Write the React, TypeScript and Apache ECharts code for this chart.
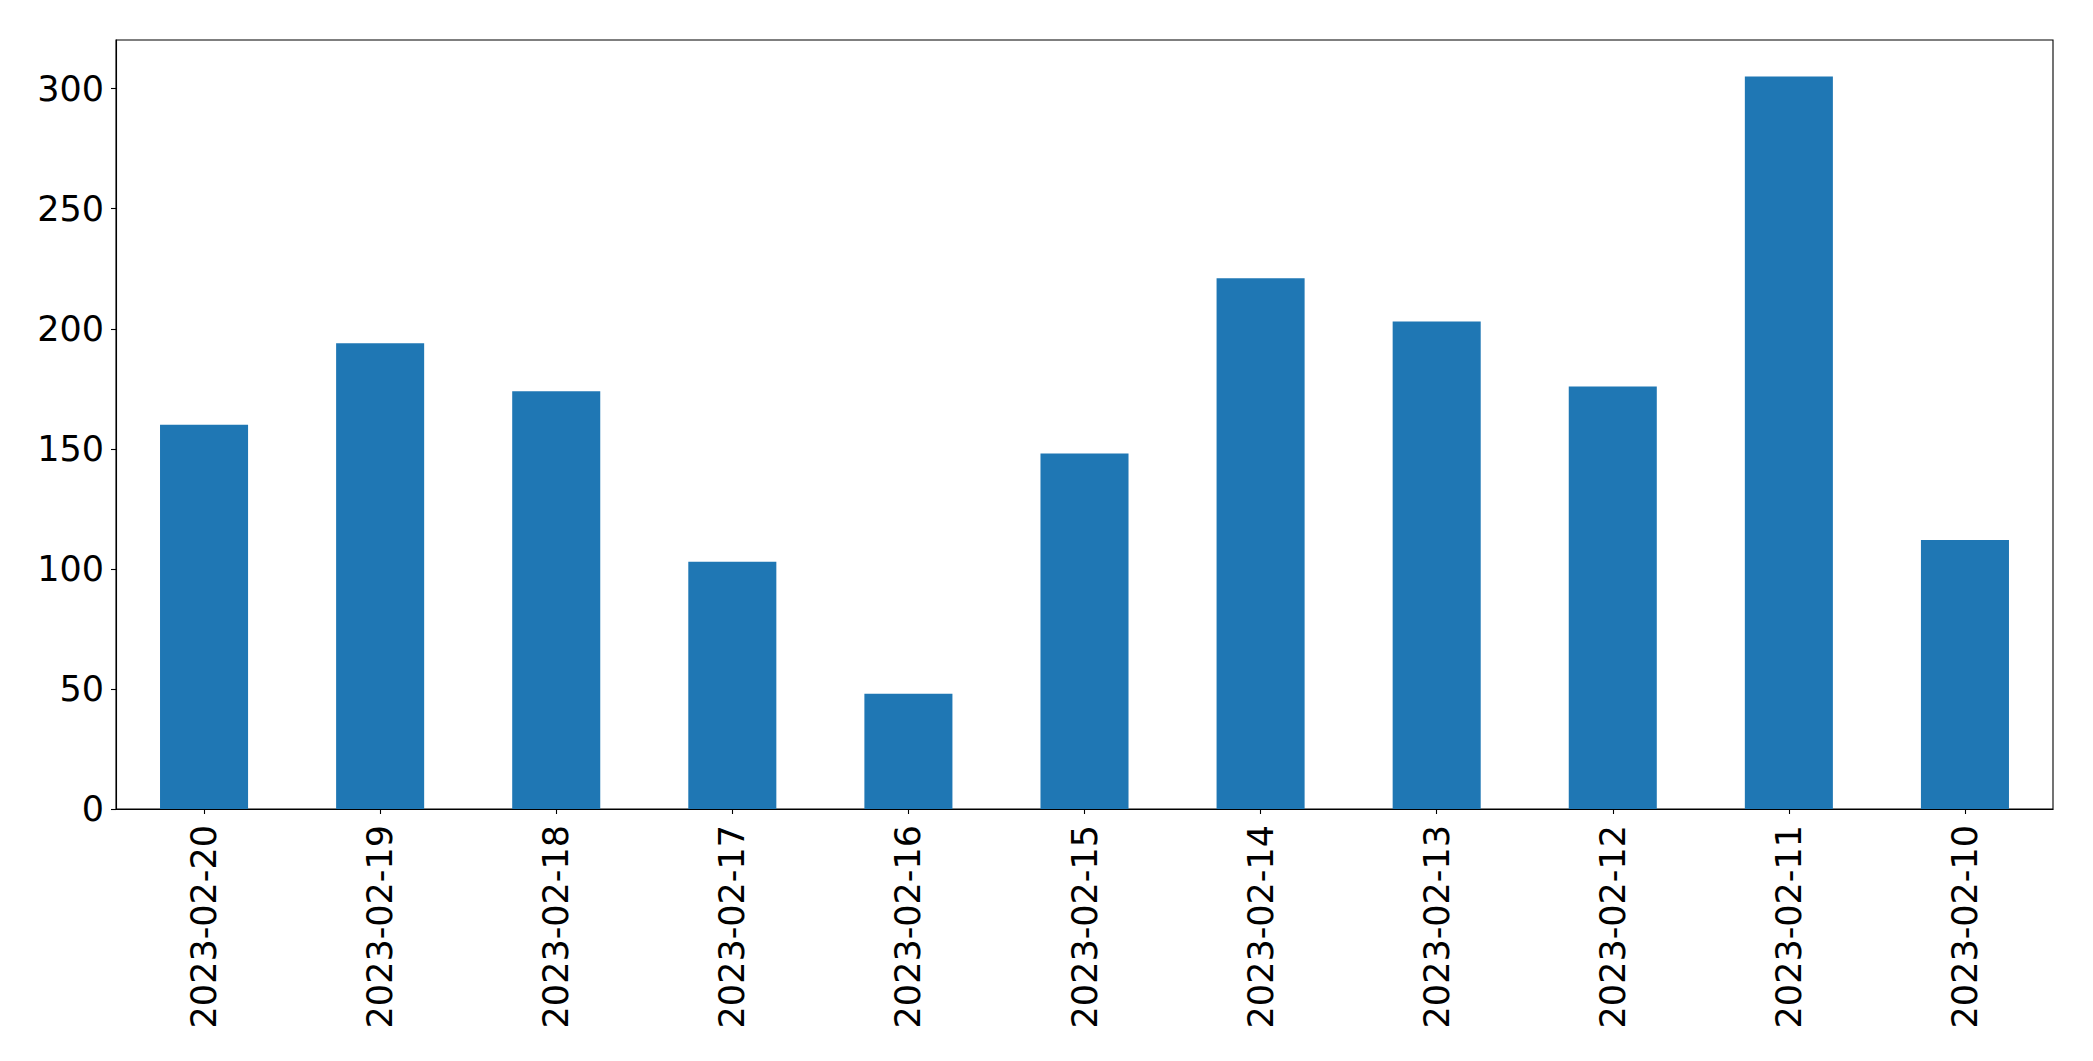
import React, { useEffect, useRef } from "react";
import * as echarts from "echarts";

const categories = [
  "2023-02-20",
  "2023-02-19",
  "2023-02-18",
  "2023-02-17",
  "2023-02-16",
  "2023-02-15",
  "2023-02-14",
  "2023-02-13",
  "2023-02-12",
  "2023-02-11",
  "2023-02-10",
];
const values = [160, 194, 174, 103, 48, 148, 221, 203, 176, 305, 112];
const yTicks = [0, 50, 100, 150, 200, 250, 300];

export default function App() {
  const ref = useRef<HTMLDivElement>(null);
  useEffect(() => {
    if (!ref.current) return;
    const chart = echarts.init(ref.current, undefined, { renderer: "svg" });
    const font = "DejaVu Sans";
    const yMax = Math.max(...values) * 1.05;
    chart.setOption({
      animation: false,
      backgroundColor: "#ffffff",
      grid: {
        left: 116,
        top: 40,
        right: 40,
        bottom: 252,
        containLabel: false,
        show: true,
        borderColor: "#000000",
        borderWidth: 1.1,
        backgroundColor: "transparent",
      },
      xAxis: {
        type: "category",
        data: categories,
        boundaryGap: true,
        axisLine: { show: true, lineStyle: { color: "#000000", width: 1.1 } },
        axisTick: {
          show: true,
          alignWithLabel: true,
          length: 5,
          lineStyle: { color: "#000000", width: 1.1 },
        },
        axisLabel: {
          rotate: 90,
          margin: 16,
          fontSize: 35,
          fontFamily: font,
          color: "#000000",
          interval: 0,
        },
        splitLine: { show: false },
      },
      yAxis: {
        type: "value",
        min: 0,
        max: yMax,
        interval: 50,
        axisLine: { show: true, lineStyle: { color: "#000000", width: 1.1 } },
        axisTick: {
          show: true,
          length: 5,
          customValues: yTicks,
          lineStyle: { color: "#000000", width: 1.1 },
        },
        axisLabel: {
          margin: 12,
          fontSize: 35,
          fontFamily: font,
          color: "#000000",
          customValues: yTicks,
        },
        splitLine: { show: false },
      },
      series: [
        {
          type: "bar",
          data: values,
          barWidth: "50%",
          itemStyle: { color: "#1f77b4" },
        },
      ],
    });
    return () => chart.dispose();
  }, []);
  return (
    <div
      ref={ref}
      style={{ position: "absolute", left: 0, top: 0, width: 2093, height: 1061 }}
    />
  );
}
